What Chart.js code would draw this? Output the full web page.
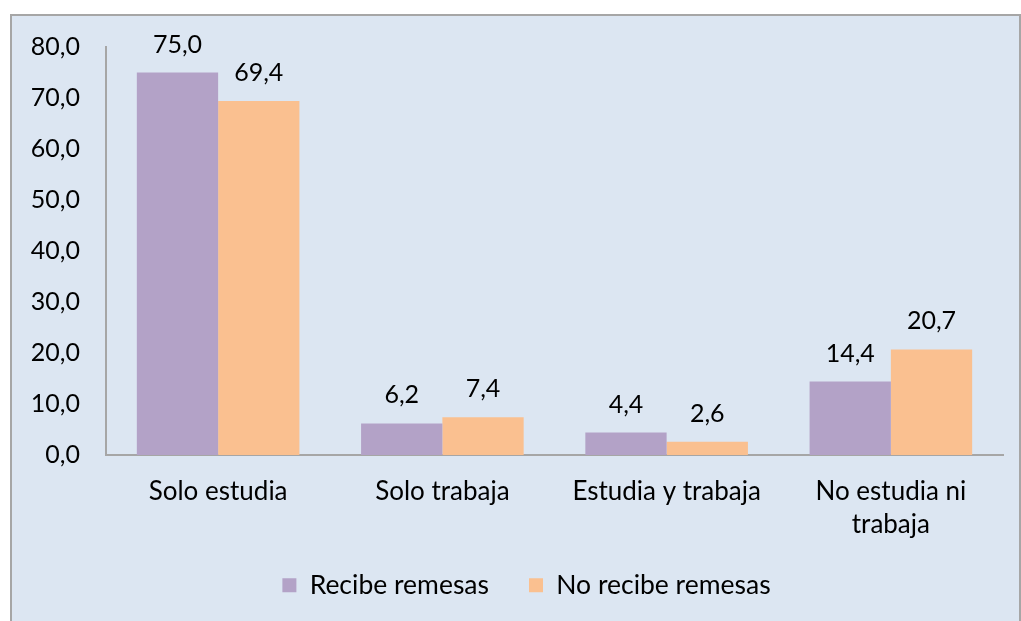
<!DOCTYPE html>
<html>
<head>
<meta charset="utf-8">
<script src="https://cdn.jsdelivr.net/npm/chart.js@4"></script>
<style>
  html, body { margin: 0; padding: 0; background: #ffffff; }
  .frame {
    position: absolute; left: 10px; top: 14px; width: 1007px; height: 620px;
    background: #dce6f2; border: 2px solid #a6a6a6;
  }
  .wrap { position: absolute; left: 0; top: 0; width: 1021px; height: 621px; }
</style>
</head>
<body>
<div class="frame"></div>
<div class="wrap"><canvas id="chart"></canvas></div>
<script>
// categories and series
const categories = ["Solo estudia", "Solo trabaja", "Estudia y trabaja", ["No estudia ni", "trabaja"]]
const recibeRemesas = [75.0, 6.2, 4.4, 14.4]
const noRecibeRemesas = [69.4, 7.4, 2.6, 20.7]
const yTicks = [0, 10, 20, 30, 40, 50, 60, 70, 80]

const FONT = "Lato"
const fmt = (v) => v.toFixed(1).replace(".", ",")

// draws the value above each bar
const valueLabels = {
  id: "valueLabels",
  afterDatasetsDraw(chart) {
    const ctx = chart.ctx
    ctx.save()
    ctx.font = "25px " + FONT
    ctx.fillStyle = "#000000"
    ctx.textAlign = "center"
    ctx.textBaseline = "alphabetic"
    chart.data.datasets.forEach((ds, i) => {
      chart.getDatasetMeta(i).data.forEach((bar, j) => {
        ctx.fillText(fmt(ds.data[j]), bar.x, bar.y - 20)
      })
    })
    ctx.restore()
  },
}

// legend: wide gap between entries, kept short and nudged to where the original sits
const legendPlace = {
  id: "legendPlace",
  afterInit(chart) {
    const legend = chart.legend
    const fit = legend.fit
    legend.fit = function () {
      fit.call(legend)
      legend.height = 78
    }
    const draw = legend.draw
    legend.draw = function () {
      const ctx = legend.ctx
      ctx.save()
      ctx.translate(25, -11)
      draw.call(legend)
      ctx.restore()
    }
  },
}

new Chart(document.getElementById("chart"), {
  type: "bar",
  data: {
    labels: categories,
    datasets: [
      {
        label: "Recibe remesas",
        data: recibeRemesas,
        backgroundColor: "#b3a2c7",
        barPercentage: 1,
        categoryPercentage: 0.725,
      },
      {
        label: "No recibe remesas",
        data: noRecibeRemesas,
        backgroundColor: "#fac090",
        barPercentage: 1,
        categoryPercentage: 0.725,
      },
    ],
  },
  options: {
    responsive: true,
    maintainAspectRatio: false,
    animation: false,
    layout: {
      padding: { left: 0, top: 47, right: 18, bottom: 0 },
    },
    plugins: {
      legend: {
        position: "bottom",
        labels: {
          color: "#000000",
          font: { family: FONT, size: 26.5 },
          boxWidth: 14,
          boxHeight: 14,
          padding: 40,
        },
      },
      tooltip: { enabled: false },
    },
    scales: {
      y: {
        min: 0,
        max: 80,
        afterBuildTicks: (scale) => {
          scale.ticks = yTicks.map((v) => ({ value: v }))
        },
        afterFit: (scale) => {
          scale.width = 106
        },
        grid: { display: false, drawTicks: false },
        border: { display: true, color: "#a6a6a6", width: 2 },
        ticks: {
          color: "#000000",
          padding: 26,
          font: { family: FONT, size: 25 },
          callback: (v) => fmt(v),
        },
      },
      x: {
        afterFit: (scale) => {
          scale.height = 88
        },
        grid: { display: false, drawTicks: false },
        border: { display: true, color: "#a6a6a6", width: 2 },
        ticks: {
          color: "#000000",
          padding: 20,
          maxRotation: 0,
          font: { family: FONT, size: 26, lineHeight: 1.28 },
        },
      },
    },
  },
  plugins: [valueLabels, legendPlace],
})
</script>
</body>
</html>
